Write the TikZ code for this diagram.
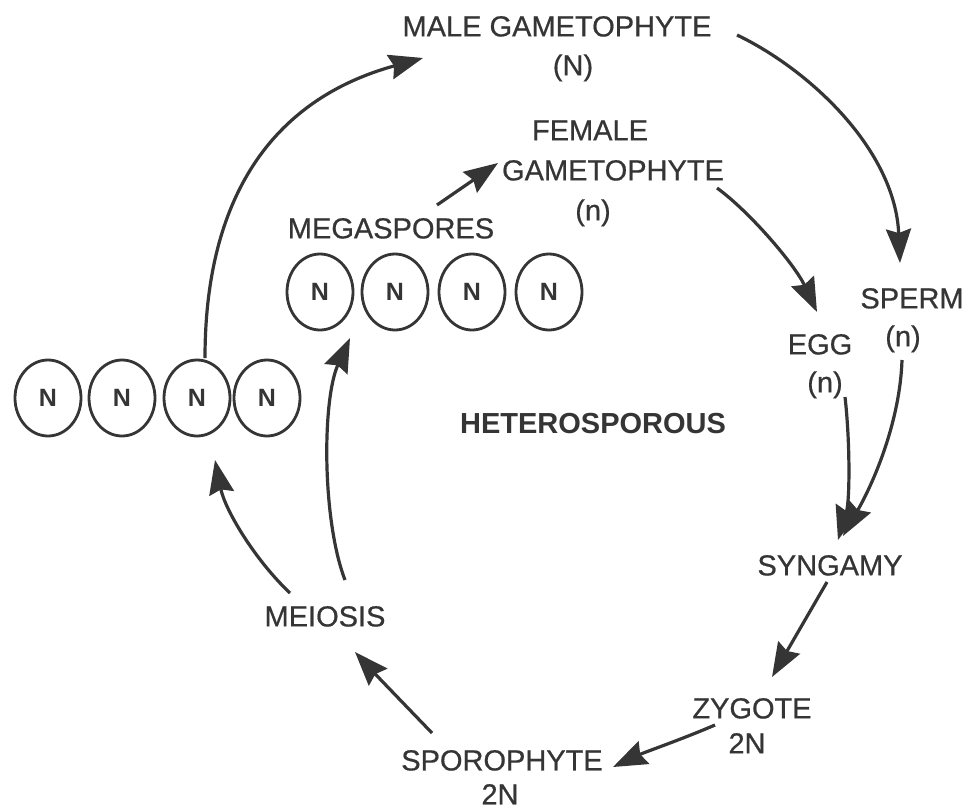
\documentclass[tikz,border=0pt]{standalone}
\usepackage{fontspec}
\setmainfont{Liberation Sans}
\newfontfamily\lblfont{Liberation Sans}[FakeBold=0.6]
\usetikzlibrary{arrows.meta,shapes.geometric}
\definecolor{ink}{HTML}{353535}
\begin{document}
\begin{tikzpicture}[x=1pt,y=-1pt,
 lbl/.style={font=\lblfont\fontsize{29}{30}\selectfont, text=ink, inner sep=0pt, text height=20.8pt, text depth=0pt, anchor=center},
 boldlbl/.style={lbl, font=\fontsize{29}{30}\selectfont\bfseries},
 spore/.style={ellipse, draw=ink, line width=2.8pt, minimum width=66pt, minimum height=76pt, inner sep=0pt, font=\fontsize{25}{26}\selectfont\bfseries, text=ink},
 arr/.style={draw=ink, line width=3.2pt, -{Stealth[length=34pt,width=25pt,inset=4pt]}}]
\useasboundingbox[fill=white] (0,0) rectangle (968,811);

% labels
\node[lbl] (male) at (557,26) {MALE GAMETOPHYTE};
\node[lbl] (maleN) at (573,65) {(N)};
\node[lbl] (fem1) at (590,130) {FEMALE};
\node[lbl] (fem2) at (613,170) {GAMETOPHYTE};
\node[lbl] (femn) at (593,210) {(n)};
\node[lbl] (mega) at (391,228) {MEGASPORES};
\node[boldlbl] (hetero) at (593,423) {HETEROSPOROUS};
\node[lbl] (sperm) at (912,298) {SPERM};
\node[lbl] (spermn) at (903,336) {(n)};
\node[lbl] (egg) at (820,344) {EGG};
\node[lbl] (eggn) at (825,382) {(n)};
\node[lbl] (syn) at (830,565) {SYNGAMY};
\node[lbl] (zyg) at (752,708) {ZYGOTE};
\node[lbl] (zyg2) at (747,743) {2N};
\node[lbl] (spo) at (502,760) {SPOROPHYTE};
\node[lbl] (spo2) at (500,794) {2N};
\node[lbl] (mei) at (325,616) {MEIOSIS};

% spores
\node[spore] (c1) at (48,398) {N};
\node[spore] (c2) at (122,398) {N};
\node[spore] (c3) at (197,398) {N};
\node[spore] (c4) at (267,398) {N};
\node[spore] (m1) at (320,292) {N};
\node[spore] (m2) at (395,292) {N};
\node[spore] (m3) at (472,292) {N};
\node[spore] (m4) at (549,292) {N};

% connector end points
\coordinate (a1s) at (205,358);
\coordinate (a1e) at (423,58);
\coordinate (a2s) at (737,35);
\coordinate (a2e) at (900,263);
\coordinate (a3s) at (717,188);
\coordinate (a3e) at (817,312);
\coordinate (a4s) at (437,205);
\coordinate (a4e) at (498,163);
\coordinate (a5s) at (845,397);
\coordinate (a5e) at (838,540);
\coordinate (a6s) at (902,360);
\coordinate (a6e) at (843,536);
\coordinate (a7s) at (827,582);
\coordinate (a7e) at (772,677);
\coordinate (a8s) at (715,725);
\coordinate (a8e) at (613,767);
\coordinate (a9s) at (432,733);
\coordinate (a9e) at (355,652);
\coordinate (a10s) at (290,593);
\coordinate (a10e) at (215,460);
\coordinate (a11s) at (345,580);
\coordinate (a11e) at (350,338);

% connectors
\draw[arr] (a1s) .. controls (205,200) and (270,100) .. (a1e);
\draw[arr] (a2s) .. controls (810,70) and (895,150) .. (a2e);
\draw[arr] (a3s) .. controls (750,212) and (795,265) .. (a3e);
\draw[arr] (a4s) -- (a4e);
\draw[arr] (a5s) .. controls (850,440) and (850,500) .. (a5e);
\draw[arr] (a6s) .. controls (900,420) and (875,480) .. (a6e);
\draw[arr] (a7s) -- (a7e);
\draw[arr] (a8s) .. controls (680,740) and (645,752) .. (a8e);
\draw[arr] (a9s) .. controls (405,705) and (378,677) .. (a9e);
\draw[arr] (a10s) .. controls (255,560) and (225,510) .. (a10e);
\draw[arr] (a11s) .. controls (322,520) and (322,400) .. (a11e);
\end{tikzpicture}
\end{document}
